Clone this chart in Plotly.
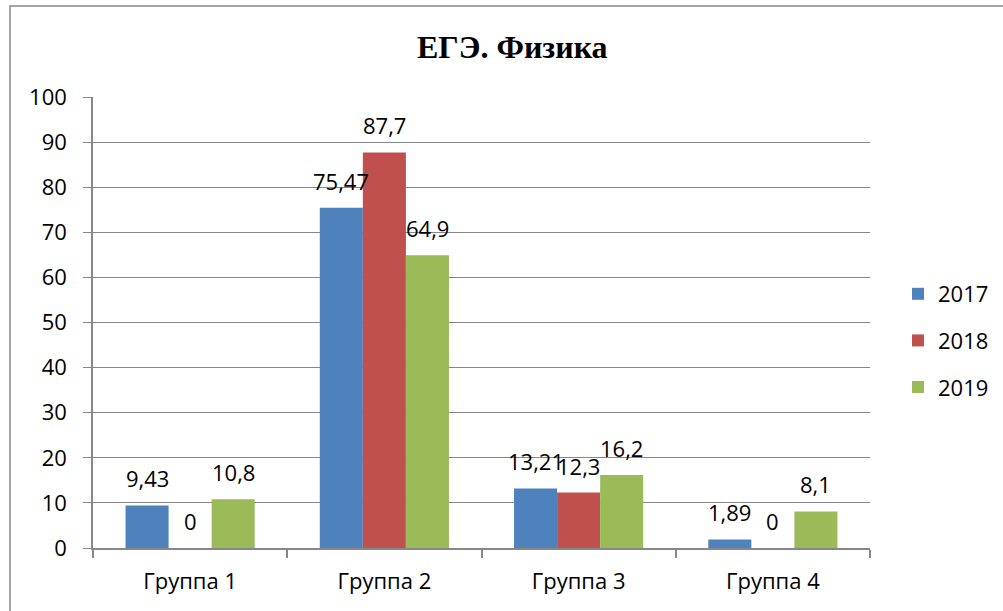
import plotly.graph_objects as go

categories = ["Группа 1", "Группа 2", "Группа 3", "Группа 4"]
series_names = ["2017", "2018", "2019"]
values_2017 = [9.43, 75.47, 13.21, 1.89]
values_2018 = [0, 87.7, 12.3, 0]
values_2019 = [10.8, 64.9, 16.2, 8.1]
colors = ["#4F81BD", "#C0504D", "#9BBB59"]
y_ticks = [0, 10, 20, 30, 40, 50, 60, 70, 80, 90, 100]

series_values = [values_2017, values_2018, values_2019]

FONT = "Open Sans"
FS = 22
GRID = "#878787"
BARGAP = 0.335

def fmt(v):
    return ("%g" % v).replace(".", ",")

W, H = 1003, 611
ml, mr, mt, mb = 93, 133, 97, 63
pw, ph = W - ml - mr, H - mt - mb

def px_x(x):
    return (x - ml) / pw

def px_y(y):
    return 1 - (y - mt) / ph

fig = go.Figure()
for name, vals, col in zip(series_names, series_values, colors):
    fig.add_trace(go.Bar(
        x=categories, y=vals, name=name, legendgroup=name,
        marker=dict(color=col, line=dict(width=0)),
    ))

annotations = []
n = len(series_names)
bw = (1 - BARGAP) / n
for si, vals in enumerate(series_values):
    off = (si - (n - 1) / 2) * bw
    for ci, v in enumerate(vals):
        annotations.append(dict(
            x=ci + off, y=v, xref="x", yref="y", text=fmt(v), showarrow=False,
            yanchor="middle", xanchor="center", yshift=27,
            font=dict(family=FONT, size=FS, color="black"),
        ))

annotations.append(dict(
    x=px_x(512), y=px_y(47), xref="paper", yref="paper",
    text="<b>ЕГЭ. Физика</b>", showarrow=False, xanchor="center", yanchor="middle",
    font=dict(family="Liberation Serif", size=32, color="black"),
))

fig.update_layout(
    width=W, height=H,
    margin=dict(l=ml, r=mr, t=mt, b=mb, pad=0, autoexpand=False),
    paper_bgcolor="white", plot_bgcolor="white",
    barmode="group", bargap=BARGAP, bargroupgap=0,
    font=dict(family=FONT, size=FS, color="black"),
    showlegend=True,
    legend=dict(
        x=px_x(898), y=px_y(273), xanchor="left", yanchor="top",
        font=dict(family=FONT, size=FS, color="black"),
        tracegroupgap=15, itemwidth=30, bgcolor="rgba(0,0,0,0)",
    ),
    xaxis=dict(
        type="category", showgrid=False, showline=True, linecolor=GRID, linewidth=1.5,
        ticks="outside", ticklen=8, tickcolor=GRID, tickwidth=1.5, tickson="boundaries",
        ticklabelstandoff=13, zeroline=False,
    ),
    yaxis=dict(
        range=[0, 100], tickvals=y_ticks, showgrid=True, gridcolor=GRID, gridwidth=1,
        showline=True, linecolor=GRID, linewidth=1.5, ticks="outside", ticklen=8,
        tickcolor=GRID, tickwidth=1, ticklabelstandoff=12, zeroline=False,
    ),
    annotations=annotations,
    shapes=[dict(
        type="rect", xref="paper", yref="paper",
        x0=px_x(10), x1=px_x(1020), y0=px_y(630), y1=px_y(6),
        line=dict(color="#888888", width=1.5), fillcolor="rgba(0,0,0,0)", layer="below",
    )],
)

fig.write_html("out.html", post_script="document.body.style.margin='0';",
               config={"displayModeBar": False})
